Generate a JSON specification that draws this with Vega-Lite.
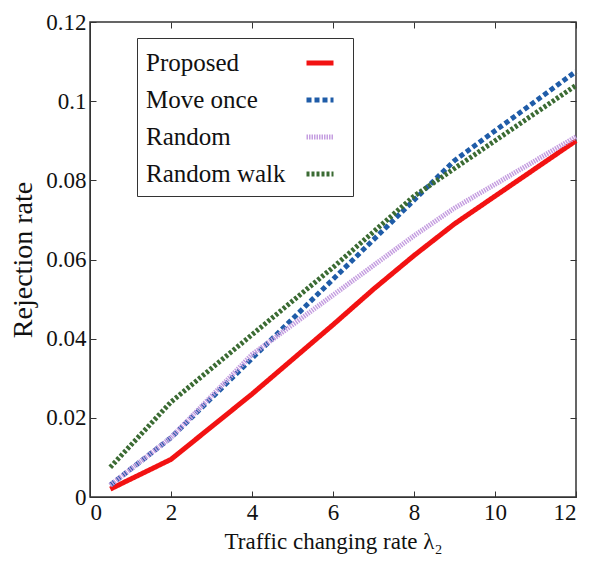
{
  "$schema": "https://vega.github.io/schema/vega-lite/v6.json",
  "autosize": {"type": "none"},
  "width": 486,
  "height": 475,
  "padding": {"left": 90, "top": 22, "right": 19, "bottom": 67},
  "background": "white",
  "config": {
    "font": "Liberation Serif",
    "view": {"stroke": "#333", "strokeWidth": 1.5},
    "axis": {"grid": false, "domainColor": "#333", "tickColor": "#333", "labelColor": "#111", "titleColor": "#111", "labelFont": "Liberation Serif", "titleFont": "Liberation Serif", "titleFontWeight": "normal", "tickSize": -6, "labelPadding": 10}
  },
  "data": {"values": [
    {"s": "Proposed", "x": 0.5, "y": 0.002},
    {"s": "Proposed", "x": 2, "y": 0.0095},
    {"s": "Proposed", "x": 4, "y": 0.026},
    {"s": "Proposed", "x": 6, "y": 0.0435},
    {"s": "Proposed", "x": 7, "y": 0.0525},
    {"s": "Proposed", "x": 8, "y": 0.061},
    {"s": "Proposed", "x": 9, "y": 0.069},
    {"s": "Proposed", "x": 12, "y": 0.090},
    {"s": "Move once", "x": 0.5, "y": 0.003},
    {"s": "Move once", "x": 2, "y": 0.015},
    {"s": "Move once", "x": 4, "y": 0.035},
    {"s": "Move once", "x": 6, "y": 0.055},
    {"s": "Move once", "x": 8, "y": 0.075},
    {"s": "Move once", "x": 9, "y": 0.085},
    {"s": "Move once", "x": 12, "y": 0.1075},
    {"s": "Random", "x": 0.5, "y": 0.003},
    {"s": "Random", "x": 2, "y": 0.015},
    {"s": "Random", "x": 4, "y": 0.036},
    {"s": "Random", "x": 6, "y": 0.051},
    {"s": "Random", "x": 8, "y": 0.066},
    {"s": "Random", "x": 9, "y": 0.073},
    {"s": "Random", "x": 12, "y": 0.091},
    {"s": "Random walk", "x": 0.5, "y": 0.0075},
    {"s": "Random walk", "x": 2, "y": 0.024},
    {"s": "Random walk", "x": 4, "y": 0.041},
    {"s": "Random walk", "x": 6, "y": 0.058},
    {"s": "Random walk", "x": 8, "y": 0.076},
    {"s": "Random walk", "x": 12, "y": 0.104}
  ]},
  "layer": [
    {
      "mark": {"type": "line", "strokeWidth": 5},
      "encoding": {
        "x": {"field": "x", "type": "quantitative", "scale": {"domain": [0, 12], "nice": false},
          "axis": {"values": [0, 2, 4, 6, 8, 10, 12], "labelFontSize": 23, "title": "Traffic changing rate λ₂", "titleFontSize": 23, "titlePadding": 6}},
        "y": {"field": "y", "type": "quantitative", "scale": {"domain": [0, 0.12], "nice": false},
          "axis": {"values": [0, 0.02, 0.04, 0.06, 0.08, 0.1, 0.12], "labelFontSize": 23, "title": "Rejection rate", "titleFontSize": 28, "titlePadding": 8, "labelExpr": "datum.value == 0 ? '0' : format(datum.value, '.2~f')"}},
        "color": {"field": "s", "type": "nominal",
          "scale": {"domain": ["Proposed", "Move once", "Random", "Random walk"], "range": ["#f21212", "#1f5ca8", "#c59ee0", "#3b6b33"]},
          "legend": {"title": null, "orient": "none", "legendX": 47, "legendY": 16, "symbolType": "stroke", "symbolSize": 729, "symbolStrokeWidth": 5, "labelFontSize": 25, "labelFont": "Liberation Serif", "labelColor": "#111", "labelOffset": -190, "symbolOffset": 158, "rowPadding": 8, "strokeColor": "#333", "padding": 9, "fillColor": "white"}},
        "strokeDash": {"field": "s", "type": "nominal",
          "scale": {"domain": ["Proposed", "Move once", "Random", "Random walk"], "range": [[1, 0], [5, 3], [1.5, 1], [3, 2]]}},
        "order": {"field": "x", "type": "quantitative"}
      }
    },
    {
      "mark": {"type": "rule", "opacity": 0},
      "encoding": {
        "x": {"datum": 0, "type": "quantitative", "scale": {"domain": [0, 12], "nice": false}, "axis": {"orient": "top", "values": [0, 2, 4, 6, 8, 10, 12], "labels": false, "title": null, "domain": false}},
        "y": {"datum": 0, "type": "quantitative", "scale": {"domain": [0, 0.12], "nice": false}, "axis": {"orient": "right", "values": [0, 0.02, 0.04, 0.06, 0.08, 0.1, 0.12], "labels": false, "title": null, "domain": false}}
      }
    }
  ],
  "resolve": {"axis": {"x": "independent", "y": "independent"}}
}
